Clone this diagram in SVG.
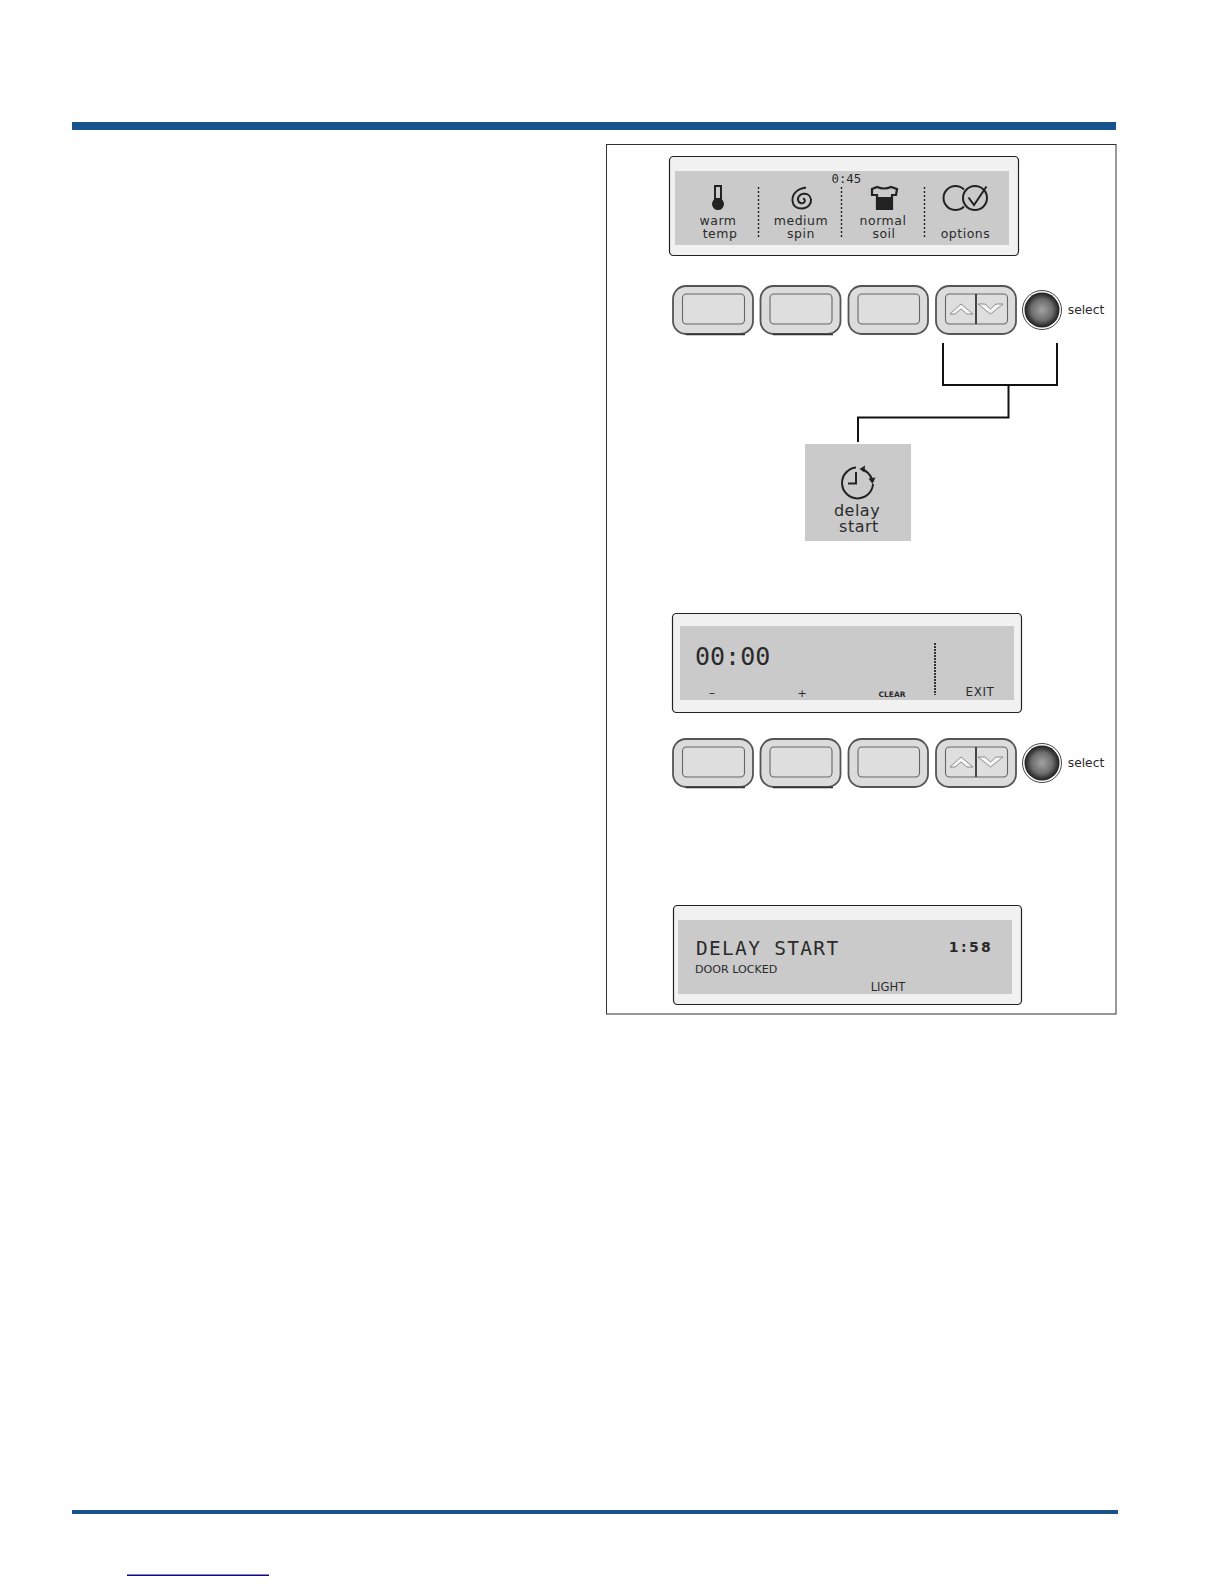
<svg xmlns="http://www.w3.org/2000/svg" width="1224" height="1584" viewBox="0 0 1224 1584">
<style>
.rule{fill:#17548f}
.panel{fill:#f1f1f1;stroke:#222;stroke-width:1.2}
.lcd{fill:#cacaca}
.div{stroke:#222;stroke-width:1.4;stroke-dasharray:2 2;fill:none}
.t{font-family:"DejaVu Sans",sans-serif;fill:#2a2a2a;text-anchor:middle}
.l{font-size:12.5px;letter-spacing:.5px}
.m{font-family:"DejaVu Sans Mono",monospace;fill:#2a2a2a}
.btn{fill:#dcdcdc;stroke:#555;stroke-width:1.8}
.btni{fill:#dedede;stroke:#666;stroke-width:1.1}
.con{fill:none;stroke:#111;stroke-width:2}
.ic{fill:none;stroke:#222;stroke-width:2}
.chev{fill:#f6f6f6;stroke:#777;stroke-width:.8}
</style>
<defs>
<radialGradient id="knob"><stop offset="0" stop-color="#a2a2a2"/><stop offset=".6" stop-color="#6e6e6e"/><stop offset="1" stop-color="#1c1c1c"/></radialGradient>
<g id="row">
<rect class="btn" x="673" y="286" width="80" height="48" rx="13"/><rect class="btni" x="682.500" y="294" width="62" height="30" rx="4"/>
<rect class="btn" x="760.500" y="286" width="80" height="48" rx="13"/><rect class="btni" x="770" y="294" width="62" height="30" rx="4"/>
<rect class="btn" x="848.500" y="286" width="79.500" height="48" rx="13"/><rect class="btni" x="858" y="294" width="61.500" height="30" rx="4"/>
<rect class="btn" x="936" y="286" width="80" height="48" rx="13"/><rect class="btni" x="945.500" y="294" width="62" height="30" rx="4"/>
<path d="M686 334.500H745M773 334.500H833" stroke="#333" stroke-width="1.500"/>
<line x1="976" y1="294" x2="976" y2="324" stroke="#333" stroke-width="1.800"/>
<path class="chev" d="M950 314 L961 304 L973 314 L967 314 L961 309 L955 314Z"/>
<path class="chev" d="M978 304 L985 304 L990.500 309 L996 304 L1003 304 L990.500 314Z"/>
<circle cx="1042" cy="310" r="19.500" fill="#fff" stroke="#444" stroke-width="1"/>
<circle cx="1042" cy="310" r="17.500" fill="url(#knob)"/>
<text class="t" x="1086" y="314" font-size="12.300">select</text>
</g>
</defs>
<rect width="1224" height="1584" fill="#fff"/>
<rect class="rule" x="72" y="122" width="1044" height="8"/>
<rect class="rule" x="72" y="1510" width="1046" height="4"/>
<rect x="127" y="1574.500" width="142" height="1.500" fill="#0b0b8f"/>
<rect x="606.500" y="144.500" width="509.500" height="869.500" fill="#fff" stroke="#333" stroke-width="1"/>

<g id="panel-status">
<rect class="panel" x="669.500" y="156.500" width="349" height="99" rx="4"/>
<rect class="lcd" x="675" y="171" width="334" height="74"/>
<line class="div" x1="758.500" y1="187" x2="758.500" y2="238"/>
<line class="div" x1="841.500" y1="187" x2="841.500" y2="238"/>
<line class="div" x1="924.500" y1="187" x2="924.500" y2="238"/>
<text class="m" x="831.500" y="183" font-size="12.300">0:45</text>
<path d="M714 185h8v14.500a6 6 0 1 1-8 0Z" fill="#222"/><rect x="716" y="187" width="4" height="11" fill="#cacaca"/>
<path class="ic" d="M806 187.500 C797 189 792 194 792.500 201 C793 206 797 208.500 802 208.500 C808 208.500 811.500 204 811 199.500 C810.500 195.500 807 193.500 803.500 193.800 C800 194.200 797.500 197 798 200 C798.500 203 802 204 804 202.500 C805.500 201 805 199 803 198.500"/>
<path d="M872 189 L877 187 Q884 190 891 187 L897 189 L896 195 L892 195 L892 209 L877 209 L877 195 L872 195Z" fill="none" stroke="#222" stroke-width="2.200"/><rect x="877" y="197" width="15" height="12" fill="#222"/>
<path class="ic" d="M964 189.500 A12 12 0 1 0 964 206.500"/><circle class="ic" cx="975" cy="198" r="12"/><path class="ic" d="M968.500 197.500 L974 205 L986.500 186.500"/>
<text class="t l" x="718" y="225">warm</text><text class="t l" x="720" y="238">temp</text>
<text class="t l" x="801" y="225">medium</text><text class="t l" x="801" y="238">spin</text>
<text class="t l" x="883" y="225">normal</text><text class="t l" x="884" y="238">soil</text>
<text class="t l" x="965.500" y="238">options</text>
</g>

<g id="buttons-top"><use href="#row"/></g>

<g id="connectors">
<path class="con" d="M943 343 V385 H1057 V343"/>
<path class="con" d="M1008.500 385 V417.500 H858 V442"/>
</g>

<g id="delay-start">
<rect class="lcd" x="805" y="444" width="106" height="97"/>
<path class="ic" d="M873 484 A15.500 15.500 0 1 1 856 467.500"/><path class="ic" d="M856 472 V483.500 H848"/>
<path class="ic" d="M862 469 Q869 472 872 479" stroke-width="1.600"/><path d="M859.500 469 L865 465.500 L864.500 472.500Z M868.500 478.500 L875.500 477.500 L872.500 484Z" fill="#222"/>
<text class="t" x="857" y="516" font-size="16" letter-spacing=".5">delay</text>
<text class="t" x="859" y="532" font-size="16" letter-spacing=".5">start</text>
</g>

<g id="panel-clock">
<rect class="panel" x="672.500" y="613.500" width="349" height="99" rx="4"/>
<rect class="lcd" x="680" y="626" width="334" height="74"/>
<line x1="935" y1="643" x2="935" y2="695" stroke="#222" stroke-width="1.800" stroke-dasharray="2 1"/>
<text class="m" x="695" y="665" font-size="25">00:00</text>
<text class="t" x="712" y="697" font-size="12">–</text>
<text class="t" x="802" y="697" font-size="11">+</text>
<text class="t" x="892" y="697" font-size="7.500" font-weight="bold">CLEAR</text>
<text class="t" x="980" y="696" font-size="12" letter-spacing=".6">EXIT</text>
</g>

<g id="buttons-bottom"><use href="#row" y="453"/></g>

<g id="panel-delay">
<rect class="panel" x="673.500" y="905.500" width="348" height="99" rx="4"/>
<rect class="lcd" x="678" y="920" width="334" height="74"/>
<text class="m" x="696" y="955" font-size="19.500" letter-spacing="1.300">DELAY START</text>
<text class="t" x="971" y="952" font-size="14" font-weight="bold" letter-spacing="2.400">1:58</text>
<text x="695" y="973" class="t" style="text-anchor:start" font-size="11.100">DOOR LOCKED</text>
<text class="t" x="888" y="991" font-size="11.600">LIGHT</text>
</g>
</svg>
